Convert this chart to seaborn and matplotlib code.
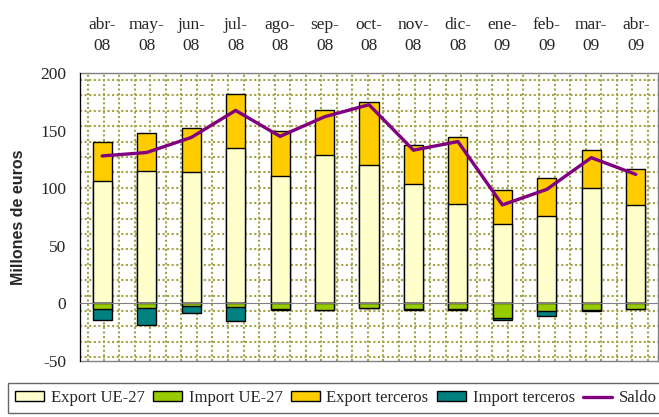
import numpy as np
import pandas as pd
import matplotlib
matplotlib.use('Agg')
import matplotlib.pyplot as plt
import seaborn as sns
from matplotlib.patches import Patch
from matplotlib.lines import Line2D

sns.set_style('white')
plt.rcParams['font.family'] = ['Liberation Serif', 'DejaVu Serif']
plt.rcParams['axes.unicode_minus'] = False

# Data (millones de euros)
months = ['abr-\n08', 'may-\n08', 'jun-\n08', 'jul-\n08', 'ago-\n08', 'sep-\n08', 'oct-\n08',
          'nov-\n08', 'dic-\n08', 'ene-\n09', 'feb-\n09', 'mar-\n09', 'abr-\n09']
export_ue = [106, 115, 114, 134.5, 111, 129, 120.5, 104, 86, 69, 76, 100.5, 85]
export_terceros = [34.5, 33, 38, 47.5, 39, 38.5, 54.5, 33.5, 58.5, 29.5, 33, 32.5, 32]
import_ue = [-5, -4, -2.5, -3.5, -5, -5.5, -4, -5, -5, -12.5, -7, -6, -4.5]
import_terceros = [-9, -15, -5.5, -11.5, -0.3, -0.3, -0.3, -0.3, -0.3, -2, -4, -0.3, -0.3]
saldo = [128, 131, 144, 167.5, 145, 162, 172.5, 133, 140.5, 85.5, 99, 126.5, 112]

c_exp_ue = '#FFFFCC'
c_imp_ue = '#99CC00'
c_exp_ter = '#FFCC00'
c_imp_ter = '#008080'
c_saldo = '#800080'

df = pd.DataFrame({'mes': months, 'export_ue': export_ue, 'export_terceros': export_terceros,
                   'import_ue': import_ue, 'import_terceros': import_terceros, 'saldo': saldo})
df['export_total'] = df['export_ue'] + df['export_terceros']
df['import_total'] = df['import_ue'] + df['import_terceros']

fig = plt.figure(figsize=(6.59, 4.17), dpi=100)
rect = [80 / 659, 56 / 417, 578 / 659, 288 / 417]

# dotted pattern background (Excel style fill)
bg = fig.add_axes(rect, zorder=0)
W, H = 578, 288
bg.set_xlim(0, W)
bg.set_ylim(H, 0)
grid_kw = dict(color='#A3A345', lw=1.5, ls=(0, (1, 1.2)))
for x in np.arange(8, W, 15.55):
    bg.axvline(x, **grid_kw)
for y in np.arange(7, H, 15.4):
    bg.axhline(y, **grid_kw)
bg.set_xticks([])
bg.set_yticks([])
for s in bg.spines.values():
    s.set_color('#808080')
    s.set_linewidth(1)

ax = fig.add_axes(rect, zorder=1)
ax.patch.set_visible(False)

bar_kw = dict(edgecolor='black', linewidth=1, width=0.43, saturation=1, ax=ax)
sns.barplot(data=df, x='mes', y='export_total', color=c_exp_ter, **bar_kw)
sns.barplot(data=df, x='mes', y='export_ue', color=c_exp_ue, **bar_kw)
sns.barplot(data=df, x='mes', y='import_total', color=c_imp_ter, **bar_kw)
sns.barplot(data=df, x='mes', y='import_ue', color=c_imp_ue, **bar_kw)
sns.lineplot(x=np.arange(len(months)), y=df['saldo'], color=c_saldo, linewidth=2.4,
             sort=False, ax=ax, legend=False)

ax.set_xlim(-0.5, len(months) - 0.5)
ax.set_ylim(-50, 200)
ax.set_yticks(range(-50, 201, 50))
ax.tick_params(axis='y', direction='out', length=5, width=1, color='black',
               labelsize=12.5, pad=5)
ax.set_xlabel('')
ax.set_ylabel('Millones de euros', fontsize=11.5, fontweight='bold',
              family='Liberation Sans')
ax.yaxis.set_label_coords(-0.093, 0.5)

# category axis crosses at zero
ax.spines['bottom'].set_position(('data', 0))
ax.spines['bottom'].set_color('#808080')
ax.spines['left'].set_color('black')
ax.spines['top'].set_visible(False)
ax.spines['right'].set_visible(False)
ax.set_xticks(np.arange(-0.5, len(months), 1))
ax.set_xticklabels([])
ax.tick_params(axis='x', direction='out', length=4, width=1, color='#404040')

top = ax.secondary_xaxis('top')
top.set_xticks(range(len(months)))
top.set_xticklabels(months, fontsize=12.5, linespacing=1.35)
top.tick_params(length=0, pad=14)
top.spines['top'].set_visible(False)

handles = [Patch(facecolor=c_exp_ue, edgecolor='black'),
           Patch(facecolor=c_imp_ue, edgecolor='black'),
           Patch(facecolor=c_exp_ter, edgecolor='black'),
           Patch(facecolor=c_imp_ter, edgecolor='black'),
           Line2D([], [], color=c_saldo, lw=2.4)]
labels = ['Export UE-27', 'Import UE-27', 'Export terceros', 'Import terceros', 'Saldo']
leg = fig.legend(handles, labels, loc='upper left', bbox_to_anchor=(8 / 659, 1 - 383 / 417),
                 ncol=5, frameon=True, fancybox=False, edgecolor='#404040', fontsize=12,
                 handlelength=1.74, handleheight=0.54, handletextpad=0.4, columnspacing=0.5,
                 borderaxespad=0, borderpad=0.42)
leg.get_frame().set_linewidth(1)

plt.savefig('out.png', dpi=100)
